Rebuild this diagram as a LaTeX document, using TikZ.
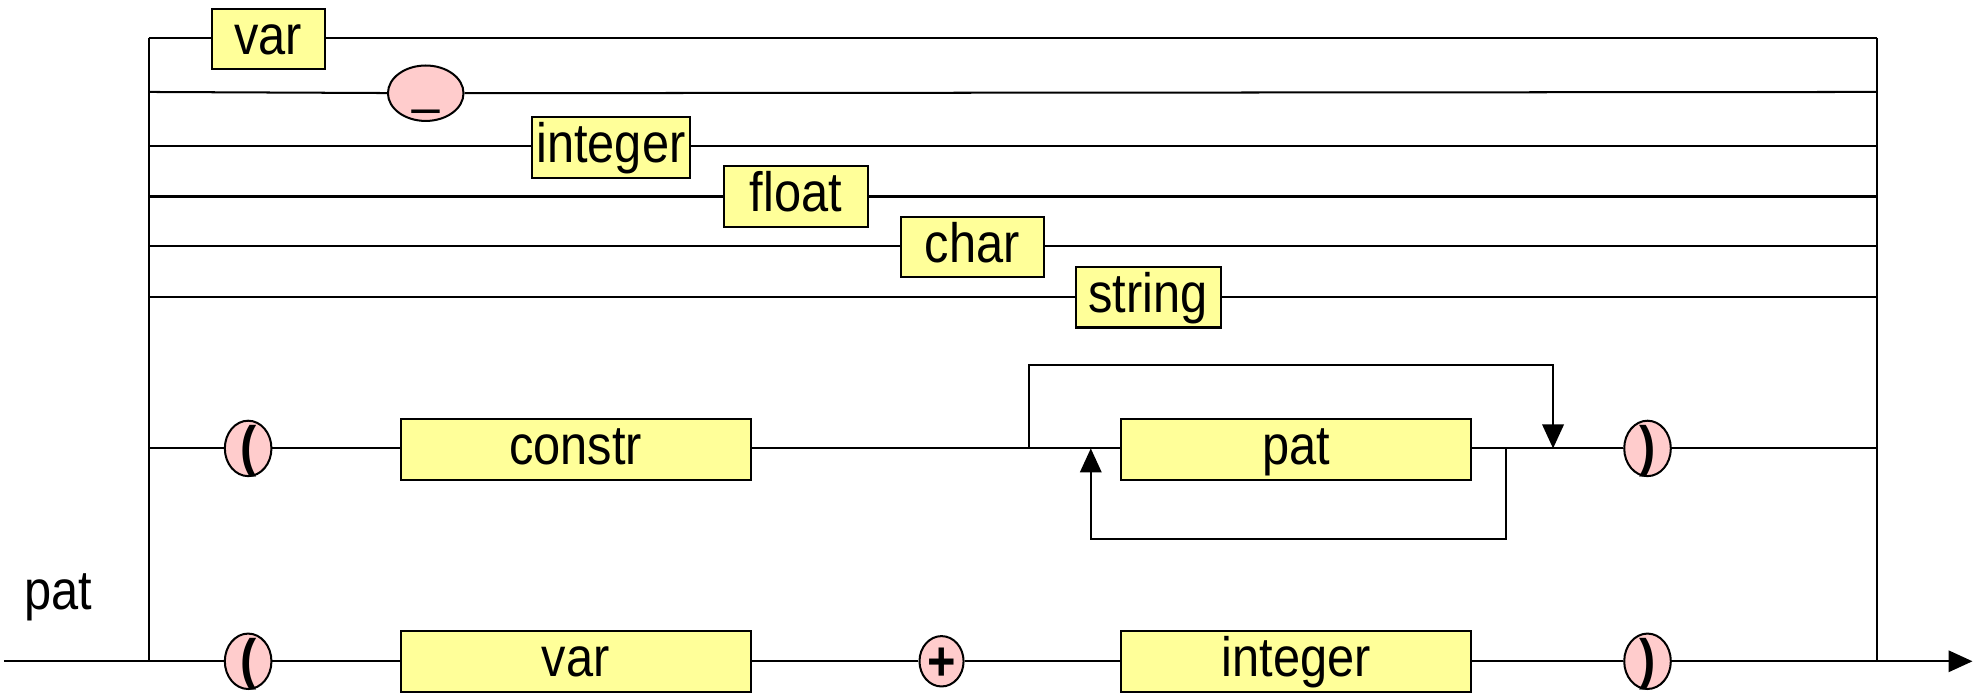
\documentclass[tikz,border=0pt]{standalone}
\usepackage{fontspec}
\setmainfont{Liberation Sans}[FakeStretch=0.88]
\usetikzlibrary{arrows.meta,shapes.geometric}
\definecolor{termfill}{HTML}{FFCCCC}
\definecolor{ntermfill}{HTML}{FFFF99}
% lower a glyph so that its baseline sits #1pt below the node centre
\newcommand{\lowered}[2]{\raisebox{-#1pt}{#2}}

\begin{document}
\begin{tikzpicture}[x=1pt,y=-1pt,line width=1.6pt,
  nterm/.style={rectangle, draw, fill=ntermfill, inner sep=0pt,
    minimum height=48pt, text height=32pt, text depth=8pt,
    font=\fontsize{44}{52}\selectfont},
  term/.style={ellipse, draw, fill=termfill, inner sep=0pt,
    text height=0pt, text depth=0pt,
    font=\fontsize{44}{52}\selectfont\bfseries},
  paren/.style={term, minimum width=37pt, minimum height=44pt},
  tip/.style={-{Triangle[length=19pt,width=17pt]}}]
\useasboundingbox (0,0) rectangle (1568,550);

% rail junctions on the left and right
\coordinate (in)  at (3,525);
\coordinate (out) at (1566,525);
\foreach \n/\y in {1/30,2/73,3/116,4/156,5/195,6/236,7/356,8/525}{
  \coordinate (L\n) at (118,\y);
  \coordinate (R\n) at (1490,\y);
}

% simple alternatives
\node[nterm, minimum width=90pt]  (var1) at (213,31)  {var};
\node[term, minimum width=60pt, minimum height=44pt] (us) at (338,74) {\mdseries\lowered{7.7}{\_}};
\node[nterm, minimum width=126pt] (int1) at (485,117) {integer};
\node[nterm, minimum width=114pt] (flt)  at (632,156) {float};
\node[nterm, minimum width=114pt] (chr)  at (772,196) {char};
\node[nterm, minimum width=115pt] (str)  at (911.5,236) {string};

% constructor application
\node[paren] (lp1) at (197,356) {\lowered{13.4}{(}};
\node[nterm, minimum width=278pt] (con) at (457,357) {constr};
\node[nterm, minimum width=278pt] (pat) at (1029,357) {pat};
\node[paren] (rp1) at (1308,356) {\lowered{13.4}{)}};

% n+k pattern
\node[paren] (lp2) at (197,525) {\lowered{13.4}{(}};
\node[nterm, minimum width=278pt] (var2) at (457,525) {var};
\node[term, minimum width=35pt, minimum height=40pt] (plus) at (747.5,525) {\lowered{15.4}{+}};
\node[nterm, minimum width=278pt] (int2) at (1029,525) {integer};
\node[paren] (rp2) at (1308,525) {\lowered{13.4}{)}};

% rule name
\node[font=\fontsize{44}{52}\selectfont, anchor=base] (lbl) at (46,484) {pat};

% entry, exit and the two vertical rails
\draw (in) -- (L8);
\draw (L8) -- (L1);
\draw (R1) -- (R8);
\draw[tip] (R8) -- (out);

% branches
\draw (L1) -- (var1.west |- L1);
\draw (var1.east |- R1) -- (R1);
\draw (L2) -- (us) -- (R2);
\draw (L3) -- (int1.west |- L3);
\draw (int1.east |- R3) -- (R3);
\draw (L4) -- (flt) -- (R4);
\draw (L5) -- (chr.west |- L5);
\draw (chr.east |- R5) -- (R5);
\draw (L6) -- (str) -- (R6);
\draw (L7) -- (lp1) -- (con.west |- L7);
\draw (con.east |- L7) -- (pat.west |- L7);
\draw (pat.east |- L7) -- (rp1) -- (R7);
\draw (L8) -- (lp2) -- (var2) -- (plus) -- (int2) -- (rp2) -- (R8);

% optional / repeated argument patterns
\coordinate (skipA) at (817,356);
\coordinate (skipB) at (1233,356);
\coordinate (backA) at (1196,356);
\coordinate (backB) at (866,356);
\draw[tip] (skipA) -- (817,290) -| (skipB);
\draw[tip] (backA) -- (1196,428) -| (backB);
\end{tikzpicture}
\end{document}
